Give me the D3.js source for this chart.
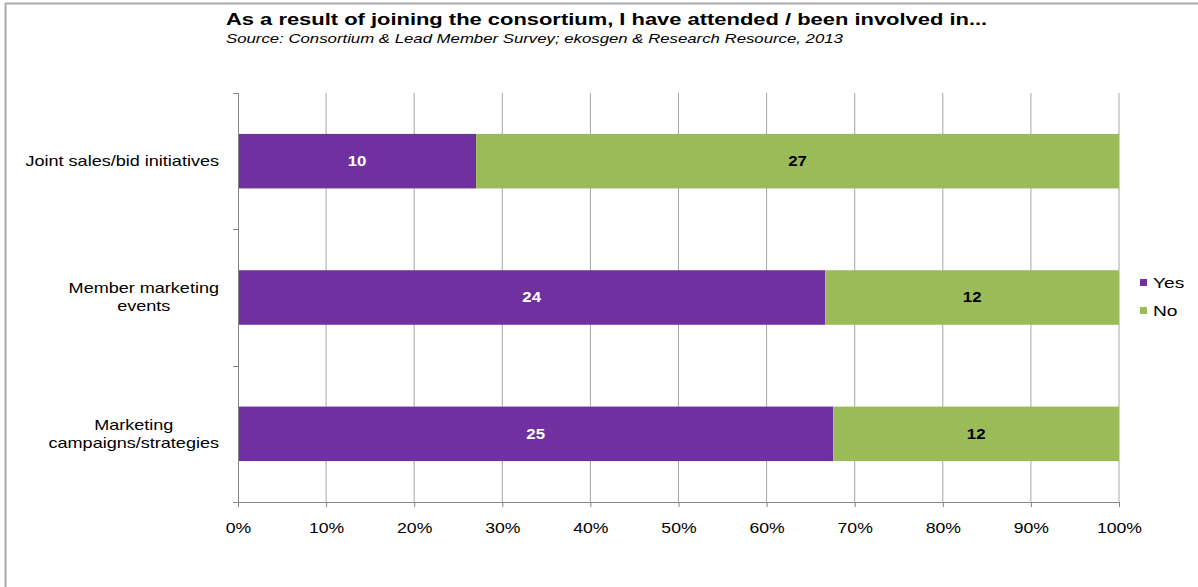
<!DOCTYPE html>
<html>
<head>
<meta charset="utf-8">
<script src="https://cdn.jsdelivr.net/npm/d3@7"></script>
<style>
  body { margin: 0; background: #fff; }
  svg { font-family: Arial, "Liberation Sans", sans-serif; }
</style>
</head>
<body>
<svg id="chart" width="1198" height="587"></svg>
<script>
// data
const categories = ['Joint sales/bid initiatives', 'Member marketing events', 'Marketing campaigns/strategies'];
const categoryLines = [['Joint sales/bid initiatives'], ['Member marketing', 'events'], ['Marketing', 'campaigns/strategies']];
const yesValues = [10, 24, 25];
const noValues = [27, 12, 12];
const seriesNames = ['Yes', 'No'];
const seriesColors = ['#7030A0', '#9BBB59'];
const tickValues = [0, 0.1, 0.2, 0.3, 0.4, 0.5, 0.6, 0.7, 0.8, 0.9, 1];

// the original text is rendered wide, so stretch glyphs horizontally
const stretch = 1.29;

const svg = d3.select('#chart');
const margin = {left: 238, right: 79, top: 93, bottom: 85};
const width = 1198 - margin.left - margin.right;
const height = 587 - margin.top - margin.bottom;

// frame (left and top edges)
svg.append('line').attr('x1', 5.5).attr('x2', 5.5).attr('y1', 3).attr('y2', 587)
    .attr('stroke', '#aaa').attr('stroke-width', 2);
svg.append('line').attr('x1', 5).attr('x2', 1198).attr('y1', 3.5).attr('y2', 3.5)
    .attr('stroke', '#aaa').attr('stroke-width', 2);

// title
svg.append('text')
    .attr('transform', `translate(226,25) scale(${stretch},1)`)
    .style('font-size', '17px').style('font-weight', 'bold')
    .attr('fill', '#000')
    .text('As a result of joining the consortium, I have attended / been involved in...');
svg.append('text')
    .attr('transform', `translate(226,43) scale(${stretch},1)`)
    .style('font-size', '13px').style('font-style', 'italic')
    .attr('fill', '#000')
    .text('Source: Consortium & Lead Member Survey; ekosgen & Research Resource, 2013');

const g = svg.append('g').attr('transform', `translate(${margin.left},${margin.top})`);

const x = d3.scaleLinear().domain([0, 1]).range([0, width]);
const y = d3.scaleBand().domain(categories).range([0, height]).paddingInner(0.6).paddingOuter(0.3);
const yEdges = d3.scaleLinear().domain([0, categories.length]).range([0, height]);

// vertical gridlines
g.append('g')
    .selectAll('line')
    .data(tickValues.slice(1))
    .enter()
    .append('line')
    .attr('x1', d => x(d)).attr('x2', d => x(d))
    .attr('y1', 0).attr('y2', height)
    .attr('stroke', '#a6a6a6').attr('stroke-width', 1);

// stacked rows
const rows = categories.map((c, i) => {
    const total = yesValues[i] + noValues[i];
    return [
        {cat: c, s: 0, x0: 0, x1: yesValues[i] / total, v: yesValues[i]},
        {cat: c, s: 1, x0: yesValues[i] / total, x1: 1, v: noValues[i]}
    ];
}).flat();

g.append('g')
    .selectAll('rect')
    .data(rows)
    .enter()
    .append('rect')
    .attr('x', d => x(d.x0))
    .attr('width', d => x(d.x1) - x(d.x0))
    .attr('y', d => y(d.cat))
    .attr('height', y.bandwidth())
    .attr('fill', d => seriesColors[d.s]);

g.append('g')
    .selectAll('text')
    .data(rows)
    .enter()
    .append('text')
    .attr('transform', d => `translate(${(x(d.x0) + x(d.x1)) / 2},${y(d.cat) + y.bandwidth() / 2}) scale(1.2,1)`)
    .attr('dy', '0.35em')
    .style('text-anchor', 'middle')
    .style('font-size', '14px').style('font-weight', 'bold')
    .attr('fill', d => d.s === 0 ? '#fff' : '#000')
    .text(d => d.v);

// y axis line with ticks at category boundaries
g.append('line')
    .attr('x1', 0.5).attr('x2', 0.5).attr('y1', 0).attr('y2', height)
    .attr('stroke', '#868686');
g.append('g')
    .selectAll('line')
    .data(d3.range(categories.length + 1))
    .enter()
    .append('line')
    .attr('x1', -5).attr('x2', 0)
    .attr('y1', d => Math.round(yEdges(d)) + 0.5).attr('y2', d => Math.round(yEdges(d)) + 0.5)
    .attr('stroke', '#868686');

// x axis
const xAxis = g.append('g')
    .attr('transform', `translate(0,${height})`)
    .call(d3.axisBottom(x).tickValues(tickValues).tickFormat(d3.format('.0%')).tickSize(5).tickPadding(16));
xAxis.select('.domain').attr('stroke', '#868686');
xAxis.selectAll('.tick line').attr('stroke', '#868686');
xAxis.selectAll('text')
    .style('font-size', '14px')
    .attr('fill', '#000')
    .attr('font-family', 'Arial, "Liberation Sans", sans-serif')
    .attr('transform', 'scale(1.26,1)');

// category labels: lines centred on each other, right edge at the axis gap
categories.forEach((c, i) => {
    const lines = categoryLines[i];
    const cy = y(c) + y.bandwidth() / 2;
    const t = g.append('text')
        .attr('transform', `translate(-19,${cy - (lines.length - 1) * 9}) scale(${stretch},1)`)
        .style('font-size', '14px')
        .attr('fill', '#000')
        .style('text-anchor', 'middle');
    const spans = lines.map((l, j) => t.append('tspan')
        .attr('dy', j === 0 ? '0.35em' : '18')
        .text(l));
    const maxW = d3.max(spans, s => s.node().getComputedTextLength());
    spans.forEach(s => s.attr('x', -maxW / 2));
});

// legend
const legend = svg.append('g').attr('transform', 'translate(1140,279)');
seriesNames.forEach((n, i) => {
    legend.append('rect')
        .attr('x', 0).attr('y', i * 28)
        .attr('width', 7).attr('height', 7)
        .attr('fill', seriesColors[i]);
    legend.append('text')
        .attr('transform', `translate(13,${i * 28 + 4}) scale(1.28,1)`)
        .attr('dy', '0.35em')
        .style('font-size', '15px')
        .attr('fill', '#000')
        .text(n);
});
</script>
</body>
</html>
